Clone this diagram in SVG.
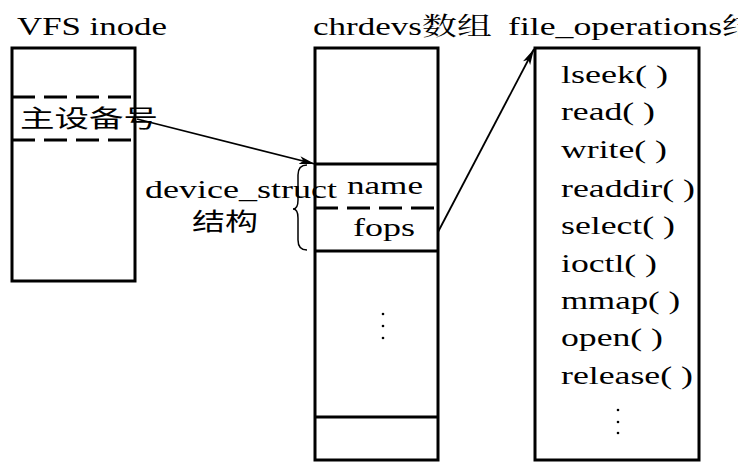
<svg xmlns="http://www.w3.org/2000/svg" width="738" height="469" viewBox="0 0 738 469">
<style>
.box{fill:#fff;stroke:#000;stroke-width:3}
.ln{stroke:#000;stroke-width:3;fill:none}
.dash{stroke:#000;stroke-width:3;fill:none;stroke-dasharray:23 9}
.t{font-family:"Liberation Serif","Noto Serif CJK SC","Noto Sans CJK SC",serif;font-size:25px;fill:#000}
.c{font-family:"Liberation Serif","Noto Sans CJK SC",serif;font-size:24px;fill:#000}
.arr{stroke:#000;stroke-width:1.8;fill:none;marker-end:url(#ah)}
.dot{fill:#000}
</style>
<defs>
<marker id="ah" markerUnits="userSpaceOnUse" markerWidth="18" markerHeight="10" refX="16" refY="5" orient="auto">
<path d="M0,1 L16,5 L0,9 L4,5 Z" fill="#000"/>
</marker>
</defs>
<g id="titles">
<text class="t" x="17" y="35" textLength="150" lengthAdjust="spacingAndGlyphs">VFS inode</text>
<text class="t" x="313" y="35" textLength="179" lengthAdjust="spacingAndGlyphs">chrdevs数组</text>
<text class="t" x="508" y="35" textLength="250" lengthAdjust="spacingAndGlyphs">file_operations结</text>
</g>
<g id="vfs-inode">
<rect class="box" x="12" y="48" width="123" height="233"/>
<line class="dash" x1="12" y1="97" x2="135" y2="97"/>
<line class="dash" x1="12" y1="140" x2="135" y2="140"/>
<text class="c" x="20" y="127" textLength="138" lengthAdjust="spacingAndGlyphs">主设备号</text>
</g>
<g id="chrdevs">
<rect class="box" x="315" y="48" width="123" height="412"/>
<line class="ln" x1="315" y1="164" x2="438" y2="164"/>
<line class="dash" x1="315" y1="208" x2="438" y2="208"/>
<line class="ln" x1="315" y1="251" x2="438" y2="251"/>
<line class="ln" x1="315" y1="417" x2="438" y2="417"/>
<text class="t" x="347" y="194" textLength="76" lengthAdjust="spacingAndGlyphs">name</text>
<text class="t" x="353" y="236" textLength="62" lengthAdjust="spacingAndGlyphs">fops</text>
<circle class="dot" cx="383" cy="314" r="1.3"/>
<circle class="dot" cx="383" cy="326" r="1.3"/>
<circle class="dot" cx="383" cy="338" r="1.3"/>
</g>
<g id="device-struct">
<path d="M307,165 Q298,165 298,175 L298,200 Q298,209 293,209 Q298,209 298,218 L298,240 Q298,250 307,250" fill="none" stroke="#000" stroke-width="1.5"/>
<text class="t" x="145" y="198" textLength="192" lengthAdjust="spacingAndGlyphs">device_struct</text>
<text class="c" x="192" y="230" textLength="66" lengthAdjust="spacingAndGlyphs">结构</text>
</g>
<g id="file-operations">
<rect class="box" x="535" y="48" width="164" height="412"/>
<text class="t" x="561" y="83" textLength="107" lengthAdjust="spacingAndGlyphs">lseek( )</text>
<text class="t" x="561" y="120" textLength="94" lengthAdjust="spacingAndGlyphs">read( )</text>
<text class="t" x="561" y="158" textLength="106" lengthAdjust="spacingAndGlyphs">write( )</text>
<text class="t" x="561" y="197" textLength="134" lengthAdjust="spacingAndGlyphs">readdir( )</text>
<text class="t" x="561" y="234" textLength="114" lengthAdjust="spacingAndGlyphs">select( )</text>
<text class="t" x="561" y="272" textLength="96" lengthAdjust="spacingAndGlyphs">ioctl( )</text>
<text class="t" x="561" y="309" textLength="119" lengthAdjust="spacingAndGlyphs">mmap( )</text>
<text class="t" x="561" y="346" textLength="102" lengthAdjust="spacingAndGlyphs">open( )</text>
<text class="t" x="561" y="384" textLength="132" lengthAdjust="spacingAndGlyphs">release( )</text>
<circle class="dot" cx="618" cy="410" r="1.3"/>
<circle class="dot" cx="618" cy="422" r="1.3"/>
<circle class="dot" cx="618" cy="433" r="1.3"/>
</g>
<g id="connectors">
<line class="arr" x1="137" y1="119" x2="315" y2="164"/>
<line class="arr" x1="438" y1="232" x2="534" y2="49"/>
</g>
</svg>
